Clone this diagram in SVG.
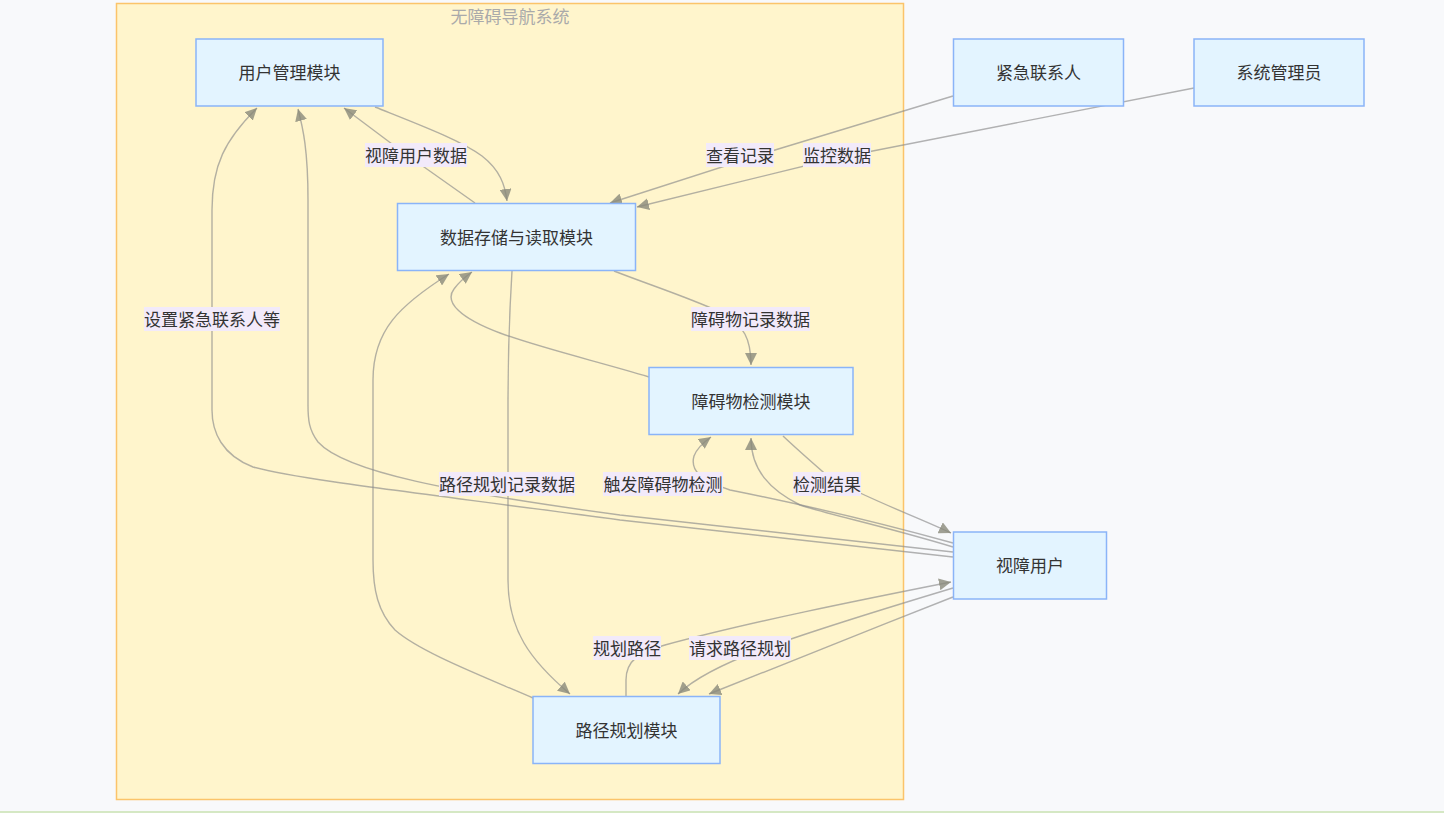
<svg xmlns="http://www.w3.org/2000/svg" width="1444" height="813" viewBox="0 0 1444 813">
<style>
.node rect{fill:#e3f4ff;stroke:#8ab4f8;stroke-width:1.5}
text{font-family:"Noto Sans CJK SC","Liberation Sans",sans-serif;font-size:17px;fill:#333;text-anchor:middle;dominant-baseline:central}
.title{fill:#aaa}
.edges path{fill:none;stroke:#8a8a8a;stroke-opacity:0.65;stroke-width:1.4}
.lbl rect{fill:#f2eafa}
</style>
<defs>
<marker id="ah" viewBox="0 0 10 10" refX="10" refY="5" markerWidth="12" markerHeight="12" markerUnits="userSpaceOnUse" orient="auto">
<path d="M0,0 L10,5 L0,10 z" fill="#8a8a7a" fill-opacity="0.8"/>
</marker>
</defs>
<rect x="0" y="0" width="1444" height="813" fill="#f8f9fb"/>
<rect x="0" y="811" width="1444" height="2" fill="#d5e8c4"/>
<g id="cluster">
<rect x="116.5" y="3.5" width="787" height="796" fill="#fff5cc" stroke="#fbc46a" stroke-width="1.5"/>
<text class="title" x="510" y="15">无障碍导航系统</text>
</g>
<g class="edges" id="edges">
<path marker-end="url(#ah)" d="M953,557 L620,520 C420,493 300,480 253,467 C222,455 212,432 212,410 L212,210 C212,165 225,140 257,108"/>
<path marker-end="url(#ah)" d="M953,552 L620,515 C450,492 345,472 318,442 C309,430 308,420 308,405 L308,200 C308,150 303,128 298,109"/>
<path marker-end="url(#ah)" d="M375,107 C420,125 460,140 482,156 C500,170 505,185 507,201"/>
<path marker-end="url(#ah)" d="M475,203 L400,150 L344,108"/>
<path marker-end="url(#ah)" d="M953,96 L775,150 L610,203"/>
<path marker-end="url(#ah)" d="M1194,88 L837,158 L637,207"/>
<path marker-end="url(#ah)" d="M614,271 C650,285 690,298 720,312 C745,325 751,340 751,365"/>
<path marker-end="url(#ah)" d="M649,377 C600,362 540,348 500,333 C460,318 444,302 454,289 C459,282 465,277 472,272"/>
<path marker-end="url(#ah)" d="M533,698 C480,675 420,652 395,630 C378,612 373,590 373,560 L373,380 C373,330 400,305 449,274"/>
<path marker-end="url(#ah)" d="M512,271 C509,320 508,350 508,400 L508,580 C508,630 530,660 570,694"/>
<path marker-end="url(#ah)" d="M953,543 C870,520 780,500 730,490 C700,480 690,470 694,456 C697,448 704,442 711,437"/>
<path marker-end="url(#ah)" d="M953,547 C880,525 830,515 800,505 C770,490 751,470 751,438"/>
<path marker-end="url(#ah)" d="M783,436 C800,452 815,465 830,478 C870,500 920,518 951,533"/>
<path marker-end="url(#ah)" d="M626,696 L626,680 C626,660 640,652 665,645 C750,622 860,600 951,582"/>
<path marker-end="url(#ah)" d="M953,588 C880,610 800,635 760,650 C720,665 695,678 678,694"/>
<path marker-end="url(#ah)" d="M953,597 C870,630 780,665 709,694"/>
</g>
<g id="edge-labels" class="lbl">
<rect x="365" y="143" width="102" height="24"/><text x="416" y="154">视障用户数据</text>
<rect x="706" y="143" width="68" height="24"/><text x="740" y="154">查看记录</text>
<rect x="803" y="143" width="68" height="24"/><text x="837" y="154">监控数据</text>
<rect x="144" y="307" width="136" height="24"/><text x="212" y="318">设置紧急联系人等</text>
<rect x="691" y="307" width="119" height="24"/><text x="750.5" y="318">障碍物记录数据</text>
<rect x="439" y="472" width="136" height="24"/><text x="507" y="483">路径规划记录数据</text>
<rect x="603" y="472" width="120" height="24"/><text x="663" y="483">触发障碍物检测</text>
<rect x="793" y="472" width="68" height="24"/><text x="827" y="483">检测结果</text>
<rect x="593" y="636" width="68" height="24"/><text x="627" y="647">规划路径</text>
<rect x="689" y="636" width="102" height="24"/><text x="740" y="647">请求路径规划</text>
</g>
<g id="n-user-mgmt" class="node"><rect x="196" y="39" width="187" height="67"/><text x="289.5" y="71.5">用户管理模块</text></g>
<g id="n-data" class="node"><rect x="397.5" y="203.5" width="238" height="67"/><text x="516.5" y="236">数据存储与读取模块</text></g>
<g id="n-obstacle" class="node"><rect x="649" y="367.5" width="204" height="67"/><text x="751" y="400">障碍物检测模块</text></g>
<g id="n-route" class="node"><rect x="533" y="696.5" width="187" height="67"/><text x="626.5" y="729">路径规划模块</text></g>
<g id="n-user" class="node"><rect x="953.5" y="532" width="153" height="67"/><text x="1030" y="564.5">视障用户</text></g>
<g id="n-contact" class="node"><rect x="953.5" y="39" width="170" height="67"/><text x="1038.5" y="71.5">紧急联系人</text></g>
<g id="n-admin" class="node"><rect x="1194" y="39" width="170" height="67"/><text x="1279" y="71.5">系统管理员</text></g>
</svg>
